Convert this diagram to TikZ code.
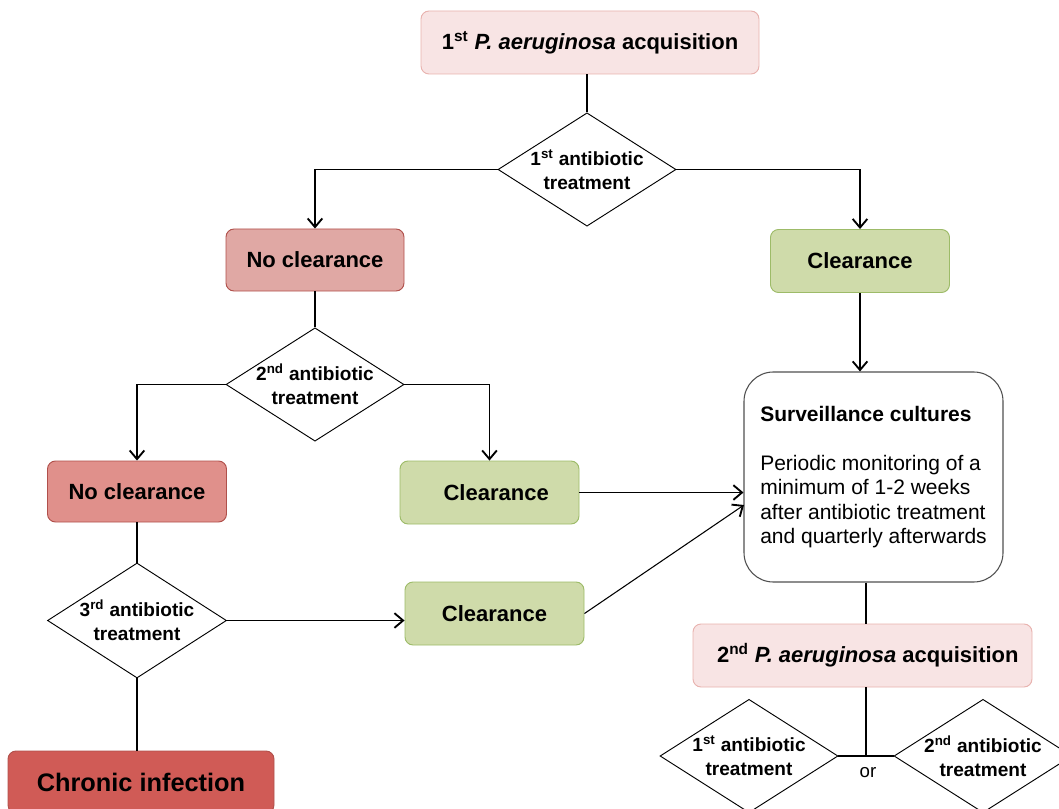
\documentclass[tikz,border=0pt]{standalone}
\usepackage{fontspec}
\setmainfont{Liberation Sans}
\usetikzlibrary{shapes.geometric,arrows.meta}
\definecolor{pinkfill}{HTML}{F8E4E4}
\definecolor{pinkdraw}{HTML}{E8B2AE}
\definecolor{nconefill}{HTML}{E0A8A4}
\definecolor{nctwofill}{HTML}{E0908B}
\definecolor{chronfill}{HTML}{D05B56}
\definecolor{reddraw}{HTML}{B0504B}
\definecolor{greenfill}{HTML}{CFDBAA}
\definecolor{greendraw}{HTML}{9DBB68}
\definecolor{survdraw}{HTML}{505050}
\begin{document}
\begin{tikzpicture}[x=0.75pt,y=-0.75pt,
  box/.style={draw, rounded corners=6pt, line width=0.7pt, inner sep=0pt,
    font=\bfseries\fontsize{16.5}{19}\selectfont},
  pinkbox/.style={box, fill=pinkfill, draw=pinkdraw},
  ncbox/.style={box, draw=reddraw, minimum width=133.5pt, minimum height=46.5pt},
  greenbox/.style={box, fill=greenfill, draw=greendraw, minimum width=134.25pt, minimum height=47.25pt},
  dia/.style={draw, diamond, line width=0.7pt, inner sep=0pt, minimum width=133.5pt, minimum height=85pt},
  dtext/.style={font=\bfseries\fontsize{14.3}{18}\selectfont, align=center, inner sep=0pt},
  conn/.style={line width=0.8pt},
  arr/.style={conn, -{Straight Barb[length=6.5pt,width=11pt,line width=1.4pt]}}
]
\useasboundingbox (0,0) rectangle (1059,809);

% nodes
\node[pinkbox, minimum width=253.5pt, minimum height=47.25pt] (a1) at (590,42.5)
  {1\textsuperscript{st} \textit{P.~aeruginosa} acquisition};
\node[dia, label={[dtext]center:1\textsuperscript{st} antibiotic\\treatment}] (d1) at (587,169.5) {};
\node[ncbox, fill=nconefill] (nc1) at (315,260) {No clearance};
\node[greenbox] (c1) at (860,261) {Clearance};
\node[draw=survdraw, line width=0.8pt, rounded corners=22pt, minimum width=194.25pt,
  minimum height=157.5pt, align=left, inner sep=0pt,
  font=\fontsize{15.75}{18.3}\selectfont] (surv) at (873.5,477)
  {\textbf{Surveillance cultures}\\[18.3pt]Periodic monitoring of a\\minimum of 1-2 weeks\\after antibiotic treatment\\and quarterly afterwards};
\node[dia, label={[dtext]center:2\textsuperscript{nd} antibiotic\\treatment}] (d2) at (315,384.5) {};
\node[ncbox, fill=nctwofill, minimum width=134.25pt, minimum height=45.75pt] (nc2) at (137,491.5) {No clearance};
\node[greenbox] (c2) at (489.5,492.5) {\hspace*{10pt}Clearance};
\node[dia, minimum width=134.25pt, minimum height=86.25pt,
  label={[dtext]center:3\textsuperscript{rd} antibiotic\\treatment}] (d3) at (137,620.5) {};
\node[greenbox] (c3) at (494.5,613.5) {Clearance};
\node[box, fill=chronfill, draw=reddraw, minimum width=199.5pt, minimum height=46.5pt,
  font=\bfseries\fontsize{19}{22}\selectfont] (chron) at (141,782) {Chronic infection};
\node[pinkbox, minimum width=254.25pt, minimum height=47.25pt] (a2) at (862.5,655.5)
  {\hspace*{8pt}2\textsuperscript{nd} \textit{P.~aeruginosa} acquisition};
\node[dia, label={[dtext]center:1\textsuperscript{st} antibiotic\\treatment}] (d4) at (749,756) {};
\node[dia, label={[dtext]center:2\textsuperscript{nd} antibiotic\\treatment}] (d5) at (983,756) {};
\node[font=\fontsize{14}{16}\selectfont, inner sep=0pt] (or) at (868,773) {or};

\coordinate (s2) at (744,505);
\coordinate (j) at (866,755);

% connectors
\draw[conn] (d1.north) -- (d1.north |- a1.south);
\draw[arr] (d1.west) -| (nc1.north);
\draw[arr] (d1.east) -| (c1.north);
\draw[arr] (c1.south) -- (c1.south |- surv.north);
\draw[conn] (d2.north) -- (d2.north |- nc1.south);
\draw[arr] (d2.west) -| (nc2.north);
\draw[arr] (d2.east) -| (c2.north);
\draw[arr] (c2.east) -- (c2.east -| surv.west);
\draw[conn] (d3.north) -- (d3.north |- nc2.south);
\draw[arr] (d3.east) -- (d3.east -| c3.west);
\draw[arr] (c3.east) -- (s2);
\draw[conn] (d3.south) -- (d3.south |- chron.north);
\draw[conn] (surv.south -| j) -- (a2.north -| j);
\draw[conn] (a2.south -| j) -- (j);
\draw[conn] (d4.east) -- (d5.west);
\end{tikzpicture}
\end{document}
